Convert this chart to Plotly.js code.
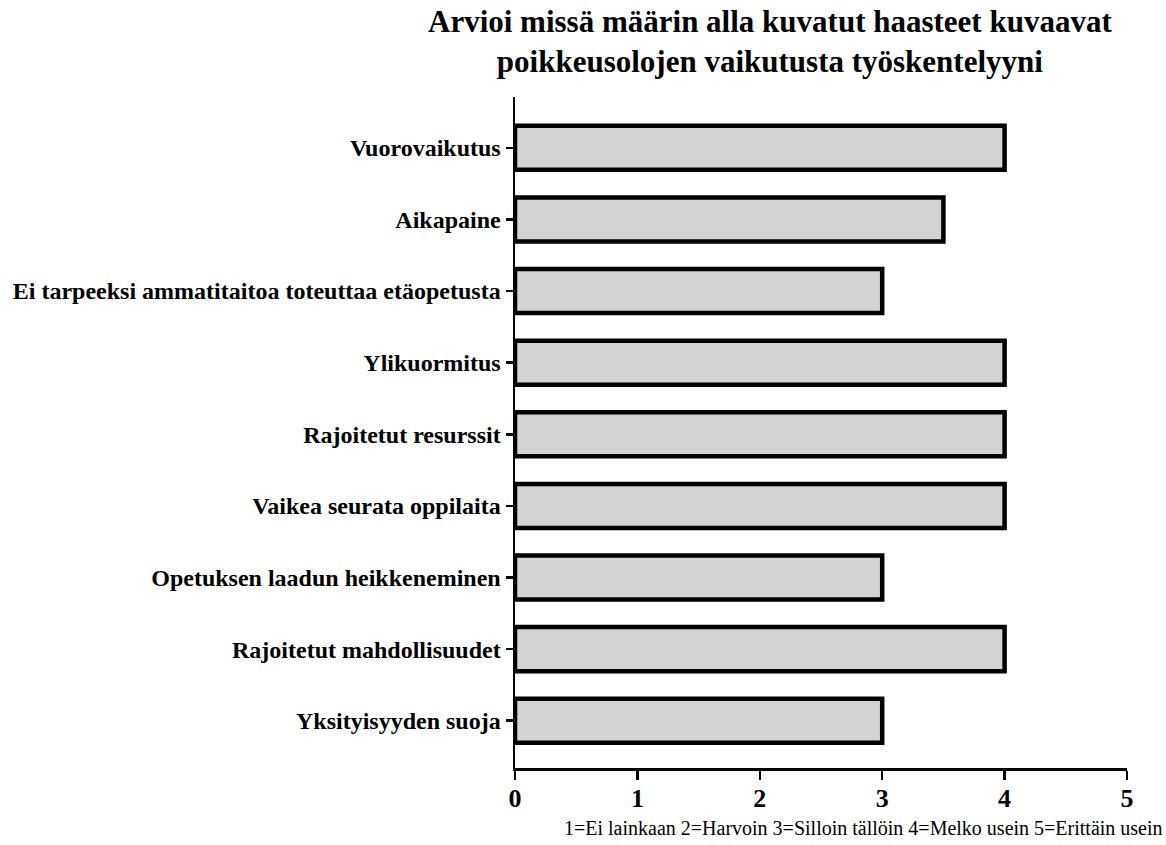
<!DOCTYPE html>
<html>
<head>
<meta charset="utf-8">
<script src="https://cdn.plot.ly/plotly-3.0.1.min.js"></script>
<style>html,body{margin:0;padding:0;background:#fff;}#chart{width:1166px;height:845px;}</style>
</head>
<body>
<div id="chart"></div>
<script>
const categories = [
  "Vuorovaikutus",
  "Aikapaine",
  "Ei tarpeeksi ammatitaitoa toteuttaa etäopetusta",
  "Ylikuormitus",
  "Rajoitetut resurssit",
  "Vaikea seurata oppilaita",
  "Opetuksen laadun heikkeneminen",
  "Rajoitetut mahdollisuudet",
  "Yksityisyyden suoja"
];
const values = [4, 3.5, 3, 4, 4, 4, 3, 4, 3];
const xTicks = [0, 1, 2, 3, 4, 5];
const titleText = "Arvioi missä määrin alla kuvatut haasteet kuvaavat<br>poikkeusolojen vaikutusta työskentelyyni";
const xTitleText = "1=Ei lainkaan 2=Harvoin 3=Silloin tällöin 4=Melko usein 5=Erittäin usein";

const serif = "Liberation Serif, Times New Roman, serif";

const trace = {
  type: "bar",
  orientation: "h",
  x: values,
  y: categories,
  marker: { color: "#d3d3d3", line: { color: "#000", width: 4.5 } },
  width: 0.615,
  hoverinfo: "none"
};

const layout = {
  width: 1166, height: 845,
  paper_bgcolor: "#fff", plot_bgcolor: "#fff",
  margin: { l: 515, r: 39, t: 97, b: 77 },
  showlegend: false,
  annotations: [
    {
      text: titleText, xref: "paper", yref: "paper",
      x: 0.416, xanchor: "center", y: 1.141, yanchor: "top",
      showarrow: false, align: "center",
      font: { family: serif, size: 31, color: "#000", weight: "bold" }
    },
    {
      text: xTitleText, xref: "paper", yref: "paper",
      x: 1.062, xanchor: "right", y: -0.09, yanchor: "middle",
      showarrow: false,
      font: { family: serif, size: 20, color: "#000" }
    }
  ],
  xaxis: {
    range: [0, 5],
    tickvals: xTicks,
    ticktext: xTicks.map(String),
    showgrid: false, zeroline: false,
    showline: true, linecolor: "#000", linewidth: 2.5,
    ticks: "outside", ticklen: 9, tickwidth: 2.5, tickcolor: "#000",
    ticklabelstandoff: -4,
    tickfont: { family: serif, size: 26, color: "#000", weight: "bold" },
    fixedrange: true
  },
  yaxis: {
    type: "category",
    categoryorder: "array", categoryarray: categories,
    range: [8.66, -0.71],
    showgrid: false, zeroline: false,
    showline: true, linecolor: "#000", linewidth: 2.5,
    ticks: "outside", ticklen: 7, tickwidth: 2.5, tickcolor: "#000",
    tickfont: { family: serif, size: 24, color: "#000", weight: "bold" },
    fixedrange: true
  }
};

Plotly.newPlot("chart", [trace], layout, { displayModeBar: false, staticPlot: true });
</script>
</body>
</html>
